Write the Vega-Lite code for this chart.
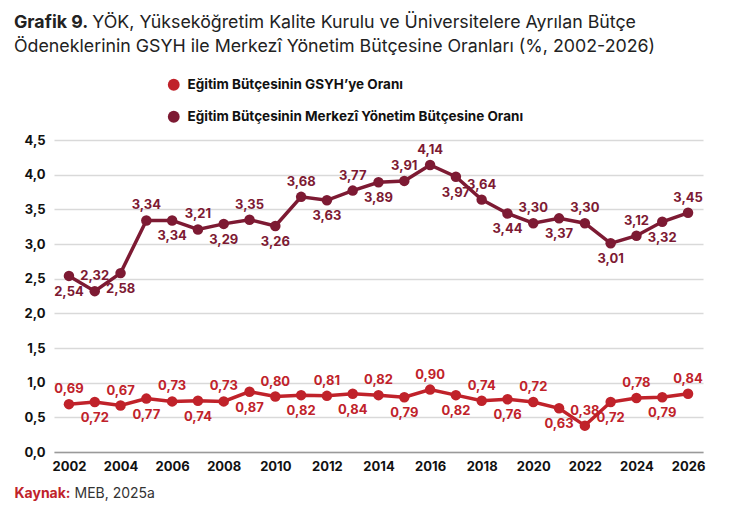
{
  "$schema": "https://vega.github.io/schema/vega-lite/v6.json",
  "description": "Grafik 9 - YÖK, YÖKAK ve üniversitelere ayrılan bütçe ödeneklerinin GSYH ve merkezi yönetim bütçesine oranları",
  "autosize": {"type": "none"},
  "width": 649,
  "height": 312,
  "padding": {"left": 54, "top": 140, "right": 41, "bottom": 67},
  "background": "white",
  "title": {
    "text": "Grafik 9.",
    "subtitle": [
      "\u200b\u00a0\u00a0\u00a0\u00a0\u00a0\u00a0\u00a0\u00a0\u00a0\u00a0\u00a0\u00a0\u00a0\u00a0\u00a0\u2009YÖK, Yükseköğretim Kalite Kurulu ve Üniversitelere Ayrılan Bütçe",
      "Ödeneklerinin GSYH ile Merkezî Yönetim Bütçesine Oranları (%, 2002-2026)"
    ],
    "anchor": "start",
    "font": "Inter",
    "fontSize": 17.8,
    "fontWeight": "bold",
    "color": "#222222",
    "subtitleFont": "Inter",
    "subtitleFontSize": 17.8,
    "subtitleFontWeight": "normal",
    "subtitleColor": "#222222",
    "subtitleLineHeight": 24,
    "subtitlePadding": -18,
    "offset": 22
  },
  "data": {
    "values": [
      {"year": 2002, "series": "Eğitim Bütçesinin GSYH’ye Oranı", "value": 0.69},
      {"year": 2003, "series": "Eğitim Bütçesinin GSYH’ye Oranı", "value": 0.72},
      {"year": 2004, "series": "Eğitim Bütçesinin GSYH’ye Oranı", "value": 0.67},
      {"year": 2005, "series": "Eğitim Bütçesinin GSYH’ye Oranı", "value": 0.77},
      {"year": 2006, "series": "Eğitim Bütçesinin GSYH’ye Oranı", "value": 0.73},
      {"year": 2007, "series": "Eğitim Bütçesinin GSYH’ye Oranı", "value": 0.74},
      {"year": 2008, "series": "Eğitim Bütçesinin GSYH’ye Oranı", "value": 0.73},
      {"year": 2009, "series": "Eğitim Bütçesinin GSYH’ye Oranı", "value": 0.87},
      {"year": 2010, "series": "Eğitim Bütçesinin GSYH’ye Oranı", "value": 0.80},
      {"year": 2011, "series": "Eğitim Bütçesinin GSYH’ye Oranı", "value": 0.82},
      {"year": 2012, "series": "Eğitim Bütçesinin GSYH’ye Oranı", "value": 0.81},
      {"year": 2013, "series": "Eğitim Bütçesinin GSYH’ye Oranı", "value": 0.84},
      {"year": 2014, "series": "Eğitim Bütçesinin GSYH’ye Oranı", "value": 0.82},
      {"year": 2015, "series": "Eğitim Bütçesinin GSYH’ye Oranı", "value": 0.79},
      {"year": 2016, "series": "Eğitim Bütçesinin GSYH’ye Oranı", "value": 0.90},
      {"year": 2017, "series": "Eğitim Bütçesinin GSYH’ye Oranı", "value": 0.82},
      {"year": 2018, "series": "Eğitim Bütçesinin GSYH’ye Oranı", "value": 0.74},
      {"year": 2019, "series": "Eğitim Bütçesinin GSYH’ye Oranı", "value": 0.76},
      {"year": 2020, "series": "Eğitim Bütçesinin GSYH’ye Oranı", "value": 0.72},
      {"year": 2021, "series": "Eğitim Bütçesinin GSYH’ye Oranı", "value": 0.63},
      {"year": 2022, "series": "Eğitim Bütçesinin GSYH’ye Oranı", "value": 0.38},
      {"year": 2023, "series": "Eğitim Bütçesinin GSYH’ye Oranı", "value": 0.72},
      {"year": 2024, "series": "Eğitim Bütçesinin GSYH’ye Oranı", "value": 0.78},
      {"year": 2025, "series": "Eğitim Bütçesinin GSYH’ye Oranı", "value": 0.79},
      {"year": 2026, "series": "Eğitim Bütçesinin GSYH’ye Oranı", "value": 0.84},
      {"year": 2002, "series": "Eğitim Bütçesinin Merkezî Yönetim Bütçesine Oranı", "value": 2.54},
      {"year": 2003, "series": "Eğitim Bütçesinin Merkezî Yönetim Bütçesine Oranı", "value": 2.32},
      {"year": 2004, "series": "Eğitim Bütçesinin Merkezî Yönetim Bütçesine Oranı", "value": 2.58},
      {"year": 2005, "series": "Eğitim Bütçesinin Merkezî Yönetim Bütçesine Oranı", "value": 3.34},
      {"year": 2006, "series": "Eğitim Bütçesinin Merkezî Yönetim Bütçesine Oranı", "value": 3.34},
      {"year": 2007, "series": "Eğitim Bütçesinin Merkezî Yönetim Bütçesine Oranı", "value": 3.21},
      {"year": 2008, "series": "Eğitim Bütçesinin Merkezî Yönetim Bütçesine Oranı", "value": 3.29},
      {"year": 2009, "series": "Eğitim Bütçesinin Merkezî Yönetim Bütçesine Oranı", "value": 3.35},
      {"year": 2010, "series": "Eğitim Bütçesinin Merkezî Yönetim Bütçesine Oranı", "value": 3.26},
      {"year": 2011, "series": "Eğitim Bütçesinin Merkezî Yönetim Bütçesine Oranı", "value": 3.68},
      {"year": 2012, "series": "Eğitim Bütçesinin Merkezî Yönetim Bütçesine Oranı", "value": 3.63},
      {"year": 2013, "series": "Eğitim Bütçesinin Merkezî Yönetim Bütçesine Oranı", "value": 3.77},
      {"year": 2014, "series": "Eğitim Bütçesinin Merkezî Yönetim Bütçesine Oranı", "value": 3.89},
      {"year": 2015, "series": "Eğitim Bütçesinin Merkezî Yönetim Bütçesine Oranı", "value": 3.91},
      {"year": 2016, "series": "Eğitim Bütçesinin Merkezî Yönetim Bütçesine Oranı", "value": 4.14},
      {"year": 2017, "series": "Eğitim Bütçesinin Merkezî Yönetim Bütçesine Oranı", "value": 3.97},
      {"year": 2018, "series": "Eğitim Bütçesinin Merkezî Yönetim Bütçesine Oranı", "value": 3.64},
      {"year": 2019, "series": "Eğitim Bütçesinin Merkezî Yönetim Bütçesine Oranı", "value": 3.44},
      {"year": 2020, "series": "Eğitim Bütçesinin Merkezî Yönetim Bütçesine Oranı", "value": 3.30},
      {"year": 2021, "series": "Eğitim Bütçesinin Merkezî Yönetim Bütçesine Oranı", "value": 3.37},
      {"year": 2022, "series": "Eğitim Bütçesinin Merkezî Yönetim Bütçesine Oranı", "value": 3.30},
      {"year": 2023, "series": "Eğitim Bütçesinin Merkezî Yönetim Bütçesine Oranı", "value": 3.01},
      {"year": 2024, "series": "Eğitim Bütçesinin Merkezî Yönetim Bütçesine Oranı", "value": 3.12},
      {"year": 2025, "series": "Eğitim Bütçesinin Merkezî Yönetim Bütçesine Oranı", "value": 3.32},
      {"year": 2026, "series": "Eğitim Bütçesinin Merkezî Yönetim Bütçesine Oranı", "value": 3.45}
    ]
  },
  "encoding": {
    "x": {
      "field": "year",
      "type": "quantitative",
      "scale": {"domain": [2001.42, 2026.58], "nice": false, "zero": false},
      "axis": {
        "values": [2002, 2004, 2006, 2008, 2010, 2012, 2014, 2016, 2018, 2020, 2022, 2024, 2026],
        "format": "d",
        "grid": false,
        "ticks": false,
        "domain": true,
        "domainColor": "#9a9a9a",
        "domainWidth": 1.5,
        "labelFont": "Inter",
        "labelFontSize": 13,
        "labelFontWeight": "bold",
        "labelColor": "#111111",
        "labelPadding": 8,
        "title": "MEB, 2025a",
        "titleFont": "Inter",
        "titleFontSize": 14,
        "titleFontWeight": "normal",
        "titleColor": "#333333",
        "titleAnchor": "start",
        "titleAlign": "left",
        "titleBaseline": "middle",
        "titleX": 20,
        "titleY": 41
      }
    },
    "y": {
      "field": "value",
      "type": "quantitative",
      "scale": {"domain": [0, 4.5], "nice": false},
      "axis": {
        "values": [0, 0.5, 1, 1.5, 2, 2.5, 3, 3.5, 4, 4.5],
        "format": ".1f",
        "grid": true,
        "gridColor": "#d9d9d9",
        "gridWidth": 1.5,
        "domain": false,
        "ticks": false,
        "labelFont": "Inter",
        "labelFontSize": 13,
        "labelFontWeight": "bold",
        "labelColor": "#111111",
        "labelPadding": 9,
        "title": "Kaynak:",
        "titleFont": "Inter",
        "titleFontSize": 14,
        "titleFontWeight": "bold",
        "titleColor": "#c0222a",
        "titleAngle": 0,
        "titleAlign": "left",
        "titleBaseline": "middle",
        "titleX": -40,
        "titleY": 353
      }
    },
    "color": {
      "field": "series",
      "type": "nominal",
      "sort": ["Eğitim Bütçesinin GSYH’ye Oranı", "Eğitim Bütçesinin Merkezî Yönetim Bütçesine Oranı"],
      "scale": {
        "domain": ["Eğitim Bütçesinin GSYH’ye Oranı", "Eğitim Bütçesinin Merkezî Yönetim Bütçesine Oranı"],
        "range": ["#c0222a", "#7d1a33"]
      },
      "legend": {
        "orient": "none",
        "legendX": 113,
        "legendY": -62,
        "direction": "vertical",
        "title": null,
        "symbolType": "circle",
        "symbolSize": 140,
        "symbolStrokeWidth": 0,
        "labelFont": "Inter",
        "labelFontSize": 13.5,
        "labelFontWeight": "bold",
        "labelColor": "#111111",
        "labelOffset": 7,
        "labelLimit": 500,
        "rowPadding": 17
      }
    }
  },
  "layer": [
    {
      "mark": {"type": "line", "strokeWidth": 3.5}
    },
    {
      "mark": {"type": "point", "filled": true, "size": 110, "opacity": 1}
    },
    {
      "transform": [
        {"filter": "(datum.series == 'Eğitim Bütçesinin GSYH’ye Oranı' && datum.year % 2 == 0) || (datum.series != 'Eğitim Bütçesinin GSYH’ye Oranı' && ((datum.year < 2016 && datum.year % 2 == 1) || (datum.year >= 2016 && datum.year % 2 == 0)))"}
      ],
      "mark": {"type": "text", "dy": -15, "font": "Inter", "fontSize": 13, "fontWeight": "bold", "baseline": "middle"},
      "encoding": {
        "text": {"field": "value", "type": "quantitative", "format": ".2f"}
      }
    },
    {
      "transform": [
        {"filter": "!((datum.series == 'Eğitim Bütçesinin GSYH’ye Oranı' && datum.year % 2 == 0) || (datum.series != 'Eğitim Bütçesinin GSYH’ye Oranı' && ((datum.year < 2016 && datum.year % 2 == 1) || (datum.year >= 2016 && datum.year % 2 == 0))))"}
      ],
      "mark": {"type": "text", "dy": 16, "font": "Inter", "fontSize": 13, "fontWeight": "bold", "baseline": "middle"},
      "encoding": {
        "text": {"field": "value", "type": "quantitative", "format": ".2f"}
      }
    }
  ],
  "config": {
    "view": {"stroke": null},
    "locale": {
      "number": {"decimal": ",", "thousands": ".", "grouping": [3], "currency": ["", " TL"]}
    }
  }
}
